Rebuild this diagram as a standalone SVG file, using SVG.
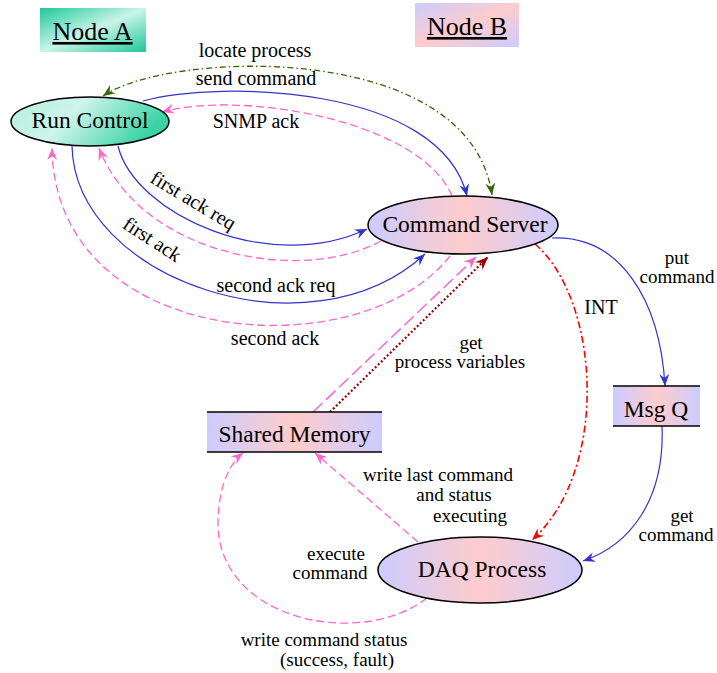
<svg xmlns="http://www.w3.org/2000/svg" width="717" height="673" viewBox="0 0 717 673">
<style>
text{font-family:"Liberation Serif","Times New Roman",serif;fill:#000}
.lbl{font-size:20px;text-anchor:middle}
.ml{font-size:19px;text-anchor:middle}
.nd{font-size:23.5px;text-anchor:middle}
.hdr{font-size:26px;text-anchor:middle;text-decoration:underline}
.e{fill:none}
.blue{stroke:#3333cc;stroke-width:1.2}
.pink{stroke:#ff66cc;stroke-width:1.3;stroke-dasharray:8,4}
.pinkl{stroke:#ff66cc;stroke-width:1.5;stroke-dasharray:13,5}
.green{stroke:#336600;stroke-width:1.3;stroke-dasharray:6,3,1.5,3}
.red{stroke:#ff0000;stroke-width:1.6;stroke-dasharray:7,3,2,3}
.dred{stroke:#990000;stroke-width:2.2;stroke-dasharray:2,2.2}
.bord{stroke:#000;stroke-width:1.5}
</style>
<defs>
<linearGradient id="gTeal" x1="0" y1="0" x2="1" y2="1">
<stop offset="0" stop-color="#1ec899"/><stop offset="0.5" stop-color="#c9f4e8"/><stop offset="1" stop-color="#1ec899"/>
</linearGradient>
<linearGradient id="gTealE" x1="0" y1="0" x2="1" y2="0.3">
<stop offset="0" stop-color="#b5efdd"/><stop offset="0.45" stop-color="#cdf5e9"/><stop offset="1" stop-color="#3ad3a5"/>
</linearGradient>
<linearGradient id="gPink" x1="0" y1="0" x2="1" y2="1">
<stop offset="0" stop-color="#ccccff"/><stop offset="0.5" stop-color="#ffcccc"/><stop offset="1" stop-color="#ccccff"/>
</linearGradient>
<linearGradient id="gPinkH" x1="0" y1="0" x2="1" y2="0">
<stop offset="0" stop-color="#ccccff"/><stop offset="0.5" stop-color="#ffcccc"/><stop offset="1" stop-color="#ccccff"/>
</linearGradient>
<marker id="aBlue" viewBox="0 0 12 10" refX="12" refY="5" markerWidth="12" markerHeight="10" markerUnits="userSpaceOnUse" orient="auto"><path d="M0,0 L12,5 L0,10 L4,5 Z" fill="#3333cc"/></marker>
<marker id="aPink" viewBox="0 0 12 10" refX="12" refY="5" markerWidth="12" markerHeight="10" markerUnits="userSpaceOnUse" orient="auto"><path d="M0,0 L12,5 L0,10 L4,5 Z" fill="#ff66cc"/></marker>
<marker id="aGreen" viewBox="0 0 12 10" refX="12" refY="5" markerWidth="12" markerHeight="10" markerUnits="userSpaceOnUse" orient="auto-start-reverse"><path d="M0,0 L12,5 L0,10 L4,5 Z" fill="#336600"/></marker>
<marker id="aRed" viewBox="0 0 12 10" refX="12" refY="5" markerWidth="12" markerHeight="10" markerUnits="userSpaceOnUse" orient="auto"><path d="M0,0 L12,5 L0,10 L4,5 Z" fill="#ff0000"/></marker>
<marker id="aDred" viewBox="0 0 12 10" refX="12" refY="5" markerWidth="13" markerHeight="11" markerUnits="userSpaceOnUse" orient="auto"><path d="M0,0 L12,5 L0,10 L4,5 Z" fill="#990000"/></marker>
</defs>
<rect width="717" height="673" fill="#fff"/>

<g id="node-a-label">
<rect x="40" y="8" width="106" height="44" fill="url(#gTeal)"/>
<text class="hdr" x="92.5" y="40">Node A</text>
</g>
<g id="node-b-label">
<rect x="415" y="3" width="104" height="44" fill="url(#gPink)"/>
<text class="hdr" x="467" y="35">Node B</text>
</g>

<g id="connectors">
<path class="e green" d="M103,96 C170,50 470,40 492,195" marker-start="url(#aGreen)" marker-end="url(#aGreen)"/>
<text class="lbl" x="255" y="57">locate process</text>
<path class="e blue" d="M143,101 C220,80 440,85 467,196" marker-end="url(#aBlue)"/>
<text class="lbl" x="256" y="85">send command</text>
<path class="e pink" d="M452,196 C420,120 240,90 162,112" marker-end="url(#aPink)"/>
<text class="lbl" x="256" y="128">SNMP ack</text>
<path class="e blue" d="M118,146 C135,215 270,275 367,229" marker-end="url(#aBlue)"/>
<text class="lbl" transform="translate(193,201) rotate(31)" x="0" y="6">first ack req</text>
<path class="e pink" d="M381,241 C300,285 140,255 99,148" marker-end="url(#aPink)"/>
<text class="lbl" transform="translate(152,240) rotate(33)" x="0" y="6">first ack</text>
<path class="e blue" d="M72,146 C75,280 310,360 425,254" marker-end="url(#aBlue)"/>
<text class="lbl" x="276" y="292">second ack req</text>
<path class="e pink" d="M450,256 C360,370 55,350 52,148" marker-end="url(#aPink)"/>
<text class="lbl" x="275" y="345">second ack</text>
<path class="e blue" d="M552,238 C620,235 660,300 665,386" marker-end="url(#aBlue)"/>
<text class="ml" x="677" y="264">put</text>
<text class="ml" x="677" y="283">command</text>
<path class="e blue" d="M662,426 C665,500 630,545 583,561" marker-end="url(#aBlue)"/>
<text class="ml" x="682" y="522">get</text>
<text class="ml" x="676" y="541">command</text>
<path class="e red" d="M535,244 C600,300 610,470 532,540" marker-end="url(#aRed)"/>
<text class="lbl" x="601" y="314">INT</text>
<path class="e pinkl" d="M313,412 L476,257" marker-end="url(#aPink)"/>
<path class="e dred" d="M330,412 L488,257" marker-end="url(#aDred)"/>
<text class="ml" x="471" y="349">get</text>
<text class="ml" x="460" y="368">process variables</text>
<path class="e pink" d="M418,542 L315,453" marker-end="url(#aPink)"/>
<text class="ml" x="438" y="481">write last command</text>
<text class="ml" x="454" y="501">and status</text>
<text class="ml" x="470" y="522">executing</text>
<path class="e pink" d="M427,598 C360,650 215,620 218,520 C219,485 230,463 243,453" marker-end="url(#aPink)"/>
<text class="ml" x="336" y="560">execute</text>
<text class="ml" x="330" y="579">command</text>
<text class="ml" x="324" y="646">write command status</text>
<text class="ml" x="337" y="666">(success, fault)</text>
</g>

<g id="node-run-control">
<ellipse cx="90" cy="121.5" rx="79" ry="24.5" fill="url(#gTealE)" class="bord"/>
<text class="nd" x="90" y="128">Run Control</text>
</g>
<g id="node-command-server">
<ellipse cx="463" cy="225" rx="95" ry="29" fill="url(#gPinkH)" class="bord"/>
<text class="nd" x="465" y="232">Command Server</text>
</g>
<g id="node-daq-process">
<ellipse cx="480" cy="570" rx="102" ry="33" fill="url(#gPinkH)" class="bord"/>
<text class="nd" x="482" y="577">DAQ Process</text>
</g>
<g id="node-shared-memory">
<rect x="207" y="412" width="175" height="40" fill="url(#gPinkH)"/>
<line x1="207" y1="412" x2="382" y2="412" class="bord"/>
<line x1="207" y1="452" x2="382" y2="452" class="bord"/>
<text class="nd" x="294.5" y="442">Shared Memory</text>
</g>
<g id="node-msg-q">
<rect x="613" y="386" width="87" height="40" fill="url(#gPinkH)"/>
<line x1="613" y1="386" x2="700" y2="386" class="bord"/>
<line x1="613" y1="426" x2="700" y2="426" class="bord"/>
<text class="nd" x="656" y="417">Msg Q</text>
</g>
</svg>
